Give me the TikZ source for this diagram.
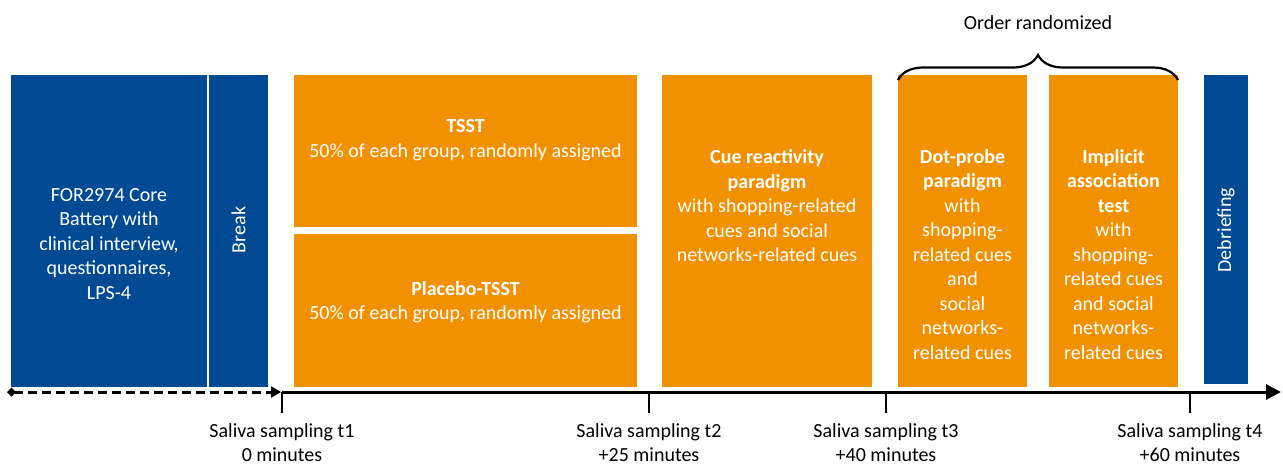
\documentclass[tikz,border=0pt]{standalone}
\usepackage{fontspec}
\setmainfont{Carlito}
\usepackage{tikz}
\usetikzlibrary{arrows.meta, positioning, calc, decorations.pathreplacing}
\definecolor{studyblue}{HTML}{004A93}
\definecolor{studyorange}{HTML}{F29100}

\begin{document}
\begin{tikzpicture}[
  x=1pt, y=-1pt,
  bluebox/.style={rectangle, fill=studyblue, inner sep=0pt},
  orangebox/.style={rectangle, fill=studyorange, inner sep=0pt},
  boxtxt/.style={text=white, align=center, inner sep=0pt, font=\fontsize{20}{24.5}\selectfont},
  lbl/.style={align=center, inner sep=0pt, font=\fontsize{20}{24}\selectfont},
  axisline/.style={line width=3pt},
  tickline/.style={line width=2.5pt}
]
  \useasboundingbox (0,0) rectangle (1283,464);

  % Blue blocks before the timeline starts
  \node[bluebox, minimum width=196pt, minimum height=312pt] (core) at (109,231) {};
  \node[bluebox, minimum width=59pt, minimum height=312pt] (brk) at (238.5,231) {};
  \node[boxtxt] (coretxt) at (109,244) {FOR2974 Core\\Battery with\\clinical interview,\\questionnaires,\\LPS-4};
  \node[boxtxt, rotate=90] (brktxt) at (238.5,230) {Break};

  % Stress induction, split in two arms
  \node[orangebox, minimum width=343pt, minimum height=152pt] (tsst) at (465.5,151) {};
  \node[orangebox, minimum width=343pt, minimum height=153pt] (plac) at (465.5,310.5) {};
  \node[boxtxt] (tssttxt) at (465.5,140) {\textbf{TSST}\\50\% of each group, randomly assigned};
  \node[boxtxt] (plactxt) at (465.5,302) {\textbf{Placebo-TSST}\\50\% of each group, randomly assigned};

  % Paradigms
  \foreach \name/\cx/\w in {cue/767/210, dot/962.5/129, iat/1113.5/129}{
    \node[orangebox, minimum width=\w pt, minimum height=312pt] (\name) at (\cx,231) {};
  }
  \node[boxtxt] (cuetxt) at (767,206) {\textbf{Cue reactivity}\\\textbf{paradigm}\\with shopping-related\\cues and social\\networks-related cues};
  \node[boxtxt] (dottxt) at (962.5,254.5) {\textbf{Dot-probe}\\\textbf{paradigm}\\with\\shopping-\\related cues\\and\\social\\networks-\\related cues};
  \node[boxtxt] (iattxt) at (1113.5,254.5) {\textbf{Implicit}\\\textbf{association}\\\textbf{test}\\with\\shopping-\\related cues\\and social\\networks-\\related cues};

  \node[bluebox, minimum width=44pt, minimum height=309pt] (debr) at (1226,229.5) {};
  \node[boxtxt, rotate=90] (debrtxt) at (1226,230) {Debriefing};

  % Brace over the randomized tasks
  \coordinate (br0) at (898,80);
  \coordinate (br1) at (1178,80);
  \draw[decorate, decoration={brace, amplitude=25pt}, line width=2.2pt] (br0) -- (br1);
  \node[lbl] (ord) at (1038,23) {Order randomized};

  % Timeline
  \coordinate (ax0) at (7,392);
  \coordinate (ax1) at (281,392);
  \coordinate (ax2) at (282,392);
  \coordinate (ax3) at (1281,392);
  \draw[axisline, dash pattern=on 9pt off 5pt, {Diamond[length=9pt,width=9pt]}-{Triangle[length=10pt,width=11pt]}] (ax0) -- (ax1);
  \draw[axisline, -{Triangle[length=15pt,width=15pt]}] (ax2) -- (ax3);

  % Saliva samples
  \foreach \i/\x/\t in {1/282/0 minutes, 2/649/+25 minutes, 3/886/+40 minutes, 4/1190/+60 minutes}{
    \coordinate (t\i) at (\x,392);
    \node[lbl] (s\i) at (\x,443) {Saliva sampling t\i\\\t};
    \draw[tickline] (t\i) -- ++(0,21);
  }
\end{tikzpicture}
\end{document}
